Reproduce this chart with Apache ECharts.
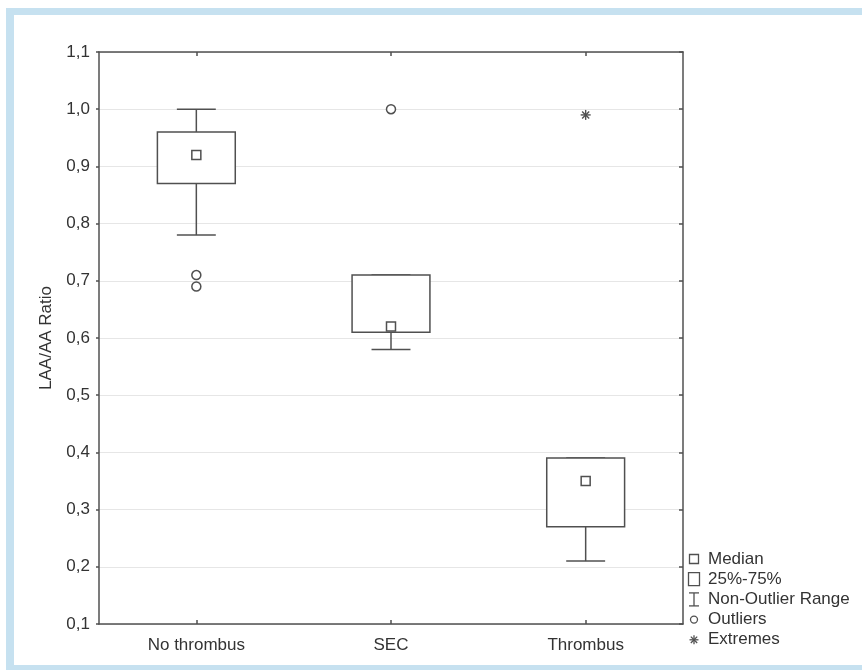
<!DOCTYPE html>
<html>
<head>
<meta charset="utf-8">
<script src="https://cdn.jsdelivr.net/npm/echarts@6/dist/echarts.min.js"></script>
<style>
html,body{margin:0;padding:0;background:#fff;}
#c{width:862px;height:670px;}
</style>
</head>
<body>
<div id="c"></div>
<script>
// ---- data ----
var categories = ['No thrombus', 'SEC', 'Thrombus'];
var whiskerLow  = [0.78, 0.58, 0.21];
var q1          = [0.87, 0.61, 0.27];
var median      = [0.92, 0.62, 0.35];
var q3          = [0.96, 0.71, 0.39];
var whiskerHigh = [1.00, 0.71, 0.39];
var outliers = [[0, 0.71], [0, 0.69], [1, 1.00]];
var extremes = [[2, 0.99]];
var yTicks = [0.1, 1.1, 0.1]; // min, max, interval
var legendLabels = ['Median', '25%-75%', 'Non-Outlier Range', 'Outliers', 'Extremes'];

var INK = '#505050';
var TXT = '#333333';
var FONT = '"Liberation Sans", Arial, sans-serif';
var FS = 17;

var boxData = categories.map(function (c, i) {
  return [i, whiskerLow[i], q1[i], median[i], q3[i], whiskerHigh[i]];
});
var medianData = categories.map(function (c, i) { return [i, median[i]]; });

function renderBox(params, api) {
  var i = api.value(0);
  var lo = api.coord([i, api.value(1)]);
  var b1 = api.coord([i, api.value(2)]);
  var b3 = api.coord([i, api.value(4)]);
  var hi = api.coord([i, api.value(5)]);
  var band = api.size([1, 0])[0];
  var bw = band * 0.4, cw = band * 0.2, x = lo[0];
  var st = {stroke: INK, lineWidth: 1.5, fill: null};
  return {
    type: 'group',
    children: [
      {type: 'line', shape: {x1: x, y1: b3[1], x2: x, y2: hi[1]}, style: st},
      {type: 'line', shape: {x1: x, y1: b1[1], x2: x, y2: lo[1]}, style: st},
      {type: 'line', shape: {x1: x - cw / 2, y1: hi[1], x2: x + cw / 2, y2: hi[1]}, style: st},
      {type: 'line', shape: {x1: x - cw / 2, y1: lo[1], x2: x + cw / 2, y2: lo[1]}, style: st},
      {type: 'rect', shape: {x: x - bw / 2, y: b3[1], width: bw, height: b1[1] - b3[1]},
       style: {stroke: INK, lineWidth: 1.5, fill: '#fff'}}
    ]
  };
}

function asteriskShapes(cx, cy, r, st) {
  var out = [];
  for (var k = 0; k < 4; k++) {
    var a = Math.PI / 4 * k;
    out.push({type: 'line', shape: {x1: cx - r * Math.cos(a), y1: cy - r * Math.sin(a), x2: cx + r * Math.cos(a), y2: cy + r * Math.sin(a)}, style: st});
  }
  return out;
}

function renderExtreme(params, api) {
  var p = api.coord([api.value(0), api.value(1)]);
  return {type: 'group', children: asteriskShapes(p[0], p[1], 5, {stroke: INK, lineWidth: 1.4})};
}

// legend drawn with graphic elements
var legX = 694, legY0 = 559, legDy = 20.2;
var legendGraphics = [];
var ls = {stroke: INK, lineWidth: 1.3, fill: '#fff'};
legendGraphics.push({type: 'rect', shape: {x: legX - 4.5, y: legY0 - 4.5, width: 9, height: 9}, style: ls});
legendGraphics.push({type: 'rect', shape: {x: legX - 5.5, y: legY0 + legDy - 6.5, width: 11, height: 13}, style: ls});
var yI = legY0 + 2 * legDy;
legendGraphics.push({type: 'line', shape: {x1: legX, y1: yI - 6.5, x2: legX, y2: yI + 6.5}, style: ls});
legendGraphics.push({type: 'line', shape: {x1: legX - 5, y1: yI - 6.5, x2: legX + 5, y2: yI - 6.5}, style: ls});
legendGraphics.push({type: 'line', shape: {x1: legX - 5, y1: yI + 6.5, x2: legX + 5, y2: yI + 6.5}, style: ls});
legendGraphics.push({type: 'circle', shape: {cx: legX, cy: legY0 + 3 * legDy, r: 3.5}, style: ls});
asteriskShapes(legX, legY0 + 4 * legDy, 4.5, {stroke: INK, lineWidth: 1.3}).forEach(function (g) { legendGraphics.push(g); });
legendLabels.forEach(function (t, k) {
  legendGraphics.push({type: 'text', x: 708, y: legY0 + k * legDy, style: {text: t, fill: TXT, font: FS + 'px ' + FONT, textVerticalAlign: 'middle', textAlign: 'left'}});
});

var frameColor = '#c6e1f0';
var frameGraphics = [
  {type: 'rect', shape: {x: 6, y: 8, width: 8, height: 662}, style: {fill: frameColor}},
  {type: 'rect', shape: {x: 6, y: 8, width: 856, height: 7}, style: {fill: frameColor}},
  {type: 'rect', shape: {x: 6, y: 665, width: 856, height: 5}, style: {fill: frameColor}}
];

var chart = echarts.init(document.getElementById('c'), null, {renderer: 'canvas'});
var axisLineStyle = {color: INK, width: 1.5};
chart.setOption({
  animation: false,
  backgroundColor: '#fff',
  textStyle: {fontFamily: FONT},
  grid: {left: 99, right: 179, top: 52, bottom: 46, containLabel: false},
  xAxis: [
    {type: 'category', data: categories, boundaryGap: true,
     axisLine: {show: true, lineStyle: axisLineStyle},
     axisTick: {show: true, inside: true, length: 4, alignWithLabel: true, lineStyle: axisLineStyle},
     axisLabel: {color: TXT, fontSize: FS, margin: 13, fontFamily: FONT},
     splitLine: {show: false}},
    {type: 'category', data: categories, boundaryGap: true, position: 'top',
     axisLine: {show: true, lineStyle: axisLineStyle},
     axisTick: {show: true, inside: true, length: 4, alignWithLabel: true, lineStyle: axisLineStyle},
     axisLabel: {show: false}, splitLine: {show: false}}
  ],
  yAxis: [
    {type: 'value', min: yTicks[0], max: yTicks[1], interval: yTicks[2],
     name: 'LAA/AA Ratio', nameLocation: 'middle', nameGap: 44,
     nameTextStyle: {color: TXT, fontSize: FS, fontFamily: FONT},
     axisLine: {show: true, lineStyle: axisLineStyle},
     axisTick: {show: true, length: 3, lineStyle: axisLineStyle},
     axisLabel: {color: TXT, fontSize: FS, margin: 9, fontFamily: FONT,
       formatter: function (v) { return v.toFixed(1).replace('.', ','); }},
     splitLine: {show: true, lineStyle: {color: '#e6e6e6', width: 1}}},
    {type: 'value', min: yTicks[0], max: yTicks[1], interval: yTicks[2], position: 'right',
     axisLine: {show: true, lineStyle: axisLineStyle},
     axisTick: {show: true, inside: true, length: 4, lineStyle: axisLineStyle},
     axisLabel: {show: false}, splitLine: {show: false}}
  ],
  series: [
    {type: 'custom', name: '25%-75%', renderItem: renderBox, data: boxData,
     encode: {x: 0, y: [1, 2, 3, 4, 5]}, z: 2},
    {type: 'scatter', name: 'Median', data: medianData, symbol: 'rect', symbolSize: 9,
     itemStyle: {color: '#fff', borderColor: INK, borderWidth: 1.5, opacity: 1}, z: 3},
    {type: 'scatter', name: 'Outliers', data: outliers, symbol: 'circle', symbolSize: 9,
     itemStyle: {color: '#fff', borderColor: INK, borderWidth: 1.5, opacity: 1}, z: 3},
    {type: 'custom', name: 'Extremes', renderItem: renderExtreme, data: extremes,
     encode: {x: 0, y: 1}, z: 3}
  ],
  graphic: frameGraphics.concat(legendGraphics)
});
</script>
</body>
</html>
